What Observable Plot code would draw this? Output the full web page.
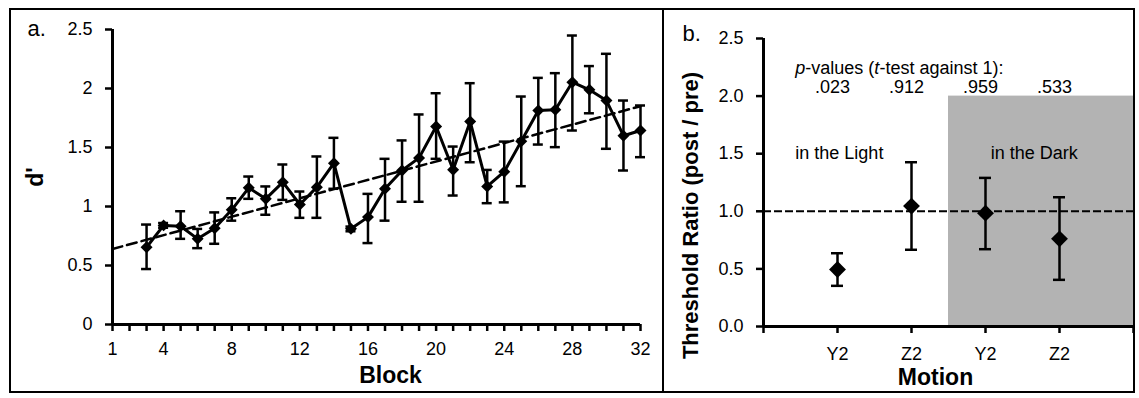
<!DOCTYPE html>
<html>
<head>
<meta charset="utf-8">
<script src="https://cdn.jsdelivr.net/npm/d3@7"></script>
<script src="https://cdn.jsdelivr.net/npm/@observablehq/plot@0.6"></script>
<style>
  html, body { margin: 0; padding: 0; background: #fff; }
  #wrap { position: relative; width: 1139px; height: 398px; overflow: hidden; font-family: "Liberation Sans", Arial, sans-serif; }
  #frame { position: absolute; left: 9px; top: 8px; width: 1126px; height: 385px; border: 2px solid #000; box-sizing: border-box; }
  #divider { position: absolute; left: 662px; top: 8px; width: 2px; height: 385px; background: #000; }
  #pa, #pb { position: absolute; top: 0; }
  #pa { left: 0; }
  #pb { left: 663px; }
</style>
</head>
<body>
<div id="wrap">
  <div id="pa"></div>
  <div id="pb"></div>
  <div id="frame"></div>
  <div id="divider"></div>
</div>
<script>
// ---------- Panel a data ----------
const blocks = [3,4,5,6,7,8,9,10,11,12,13,14,15,16,17,18,19,20,21,22,23,24,25,26,27,28,29,30,31,32];
const dMean  = [0.655,0.84,0.833,0.726,0.816,0.972,1.158,1.065,1.206,1.017,1.164,1.367,0.811,0.91,1.15,1.305,1.412,1.678,1.311,1.72,1.17,1.295,1.553,1.814,1.82,2.053,1.989,1.898,1.6,1.644];
const dLow   = [0.47,0.82,0.726,0.647,0.684,0.88,1.065,0.93,1.056,0.904,0.904,1.15,0.79,0.69,0.88,1.04,1.04,1.404,1.093,1.375,1.028,1.035,1.172,1.525,1.503,1.644,1.79,1.489,1.305,1.418];
const dHigh  = [0.847,0.86,0.96,0.81,0.95,1.07,1.254,1.17,1.356,1.127,1.424,1.582,0.83,1.107,1.404,1.56,1.78,1.96,1.508,2.045,1.31,1.55,1.932,2.09,2.13,2.449,2.19,2.294,1.898,1.856];
const trendBlock = [1, 32];
const trendD = [0.64, 1.85];
const blockTickLabels = [1,4,8,12,16,20,24,28,32];
const blockMinorTicks = d3.range(1, 33);
const dTicks = [0,0.5,1,1.5,2,2.5];

// ---------- Panel b data ----------
const motionLabels = ["Y2","Z2","Y2","Z2"];
const ratioMean = [0.495,1.045,0.984,0.761];
const ratioLow  = [0.353,0.666,0.671,0.405];
const ratioHigh = [0.636,1.426,1.29,1.122];
const pValues = [".023",".912",".959",".533"];
const pTitle = "p-values (t-test against 1):";
const conditionLabels = ["in the Light","in the Dark"];
const darkRegion = [{x1: 2.5, x2: 5, y1: 0, y2: 2.0}];
const ratioTicks = [0,0.5,1,1.5,2,2.5];

const FONT = "Liberation Sans, Arial, sans-serif";

const rowsA = blocks.map((b,i) => ({block: b, d: dMean[i], lo: dLow[i], hi: dHigh[i]}));
const trend = trendBlock.map((b,i) => ({block: b, d: trendD[i]}));

const plotA = Plot.plot({
  width: 650, height: 398,
  marginLeft: 112, marginRight: 10, marginTop: 29, marginBottom: 74,
  style: {fontFamily: FONT, fontSize: "18px", background: "transparent", overflow: "visible"},
  x: {domain: [1, 32]},
  y: {domain: [0, 2.5]},
  marks: [
    Plot.axisY({ticks: dTicks, tickFormat: d => String(d), tickSize: 7, tickPadding: 13, strokeWidth: 2.5, fontSize: 18, label: null}),
    Plot.axisX({ticks: blockMinorTicks, tickFormat: () => "", tickSize: 7, strokeWidth: 2.5, label: null}),
    Plot.axisX({ticks: blockTickLabels, tickSize: 0, tickPadding: 18, fontSize: 18, label: null}),
    Plot.ruleX([1], {strokeWidth: 3}),
    Plot.ruleY([0], {strokeWidth: 3}),
    Plot.line(trend, {x: "block", y: "d", strokeWidth: 2.5, strokeDasharray: "10,5"}),
    Plot.ruleX(rowsA, {x: "block", y1: "lo", y2: "hi", strokeWidth: 2.5}),
    Plot.ruleY(rowsA, {y: "lo", x1: "block", x2: "block", insetLeft: -5, insetRight: -5, strokeWidth: 2.5}),
    Plot.ruleY(rowsA, {y: "hi", x1: "block", x2: "block", insetLeft: -5, insetRight: -5, strokeWidth: 2.5}),
    Plot.line(rowsA, {x: "block", y: "d", strokeWidth: 3}),
    Plot.dot(rowsA, {x: "block", y: "d", symbol: "diamond2", r: 5.4, fill: "black", stroke: "none"}),
    Plot.text(["Block"], {frameAnchor: "bottom", textAnchor: "middle", lineAnchor: "middle", dx: 14, dy: 51, fontSize: 23, fontWeight: "bold"}),
    Plot.text(["d'"], {frameAnchor: "left", textAnchor: "middle", lineAnchor: "middle", rotate: -90, dx: -77, fontSize: 23, fontWeight: "bold"}),
    Plot.text(["a."], {frameAnchor: "top-left", textAnchor: "start", lineAnchor: "middle", dx: -85, dy: -1, fontSize: 22})
  ]
});
document.getElementById("pa").appendChild(plotA);

const rowsB = motionLabels.map((m,i) => ({pos: i + 1, label: m, mean: ratioMean[i], lo: ratioLow[i], hi: ratioHigh[i], p: pValues[i]}));

const plotB = Plot.plot({
  width: 476, height: 398,
  marginLeft: 100, marginRight: 6, marginTop: 38, marginBottom: 72,
  style: {fontFamily: FONT, fontSize: "18px", background: "transparent", overflow: "visible"},
  x: {domain: [0, 5]},
  y: {domain: [0, 2.5]},
  marks: [
    Plot.rect(darkRegion, {x1: "x1", x2: "x2", y1: "y1", y2: "y2", fill: "#b3b3b3"}),
    Plot.ruleY([1], {strokeWidth: 2, strokeDasharray: "8,3"}),
    Plot.axisY({ticks: ratioTicks, tickFormat: d3.format(".1f"), tickSize: 7, tickPadding: 13, strokeWidth: 2.5, fontSize: 18, label: null}),
    Plot.axisX({ticks: [0,1,2,3,4,5], tickFormat: i => motionLabels[i - 1] ?? "", tickSize: 7, tickPadding: 14, strokeWidth: 2.5, fontSize: 18, label: null}),
    Plot.ruleX([0], {strokeWidth: 3}),
    Plot.ruleY([0], {strokeWidth: 3}),
    Plot.ruleX(rowsB, {x: "pos", y1: "lo", y2: "hi", strokeWidth: 2.5}),
    Plot.ruleY(rowsB, {y: "lo", x1: "pos", x2: "pos", insetLeft: -6, insetRight: -6, strokeWidth: 2.5}),
    Plot.ruleY(rowsB, {y: "hi", x1: "pos", x2: "pos", insetLeft: -6, insetRight: -6, strokeWidth: 2.5}),
    Plot.dot(rowsB, {x: "pos", y: "mean", symbol: "diamond2", r: 7.6, fill: "black", stroke: "none"}),
    Plot.text([pTitle], {x: 0.43, y: 2.24, text: d => d, textAnchor: "start", fontSize: 18}),
    Plot.text(rowsB, {x: "pos", y: 2.075, text: "p", dx: -5, fontSize: 18}),
    Plot.text([conditionLabels[0]], {x: 0.43, y: 1.5, text: d => d, textAnchor: "start", fontSize: 18}),
    Plot.text([conditionLabels[1]], {x: 3.07, y: 1.5, text: d => d, textAnchor: "start", fontSize: 18}),
    Plot.text(["Motion"], {frameAnchor: "bottom", textAnchor: "middle", lineAnchor: "middle", dx: -13, dy: 51, fontSize: 23, fontWeight: "bold"}),
    Plot.text(["Threshold Ratio (post / pre)"], {frameAnchor: "left", textAnchor: "middle", lineAnchor: "middle", rotate: -90, dx: -73, dy: 33, fontSize: 22, fontWeight: "bold"}),
    Plot.text(["b."], {frameAnchor: "top-left", textAnchor: "start", lineAnchor: "middle", dx: -81, dy: -5, fontSize: 22})
  ]
});
document.getElementById("pb").appendChild(plotB);

// italicise "p" and "t" in the p-value heading
const NS = "http://www.w3.org/2000/svg";
plotB.querySelectorAll("text").forEach(t => {
  if (t.textContent === pTitle) {
    t.textContent = "";
    [["p", true], ["-values (", false], ["t", true], ["-test against 1):", false]].forEach(([s, it]) => {
      const ts = document.createElementNS(NS, "tspan");
      ts.textContent = s;
      if (it) ts.setAttribute("font-style", "italic");
      t.appendChild(ts);
    });
  }
});
</script>
</body>
</html>
